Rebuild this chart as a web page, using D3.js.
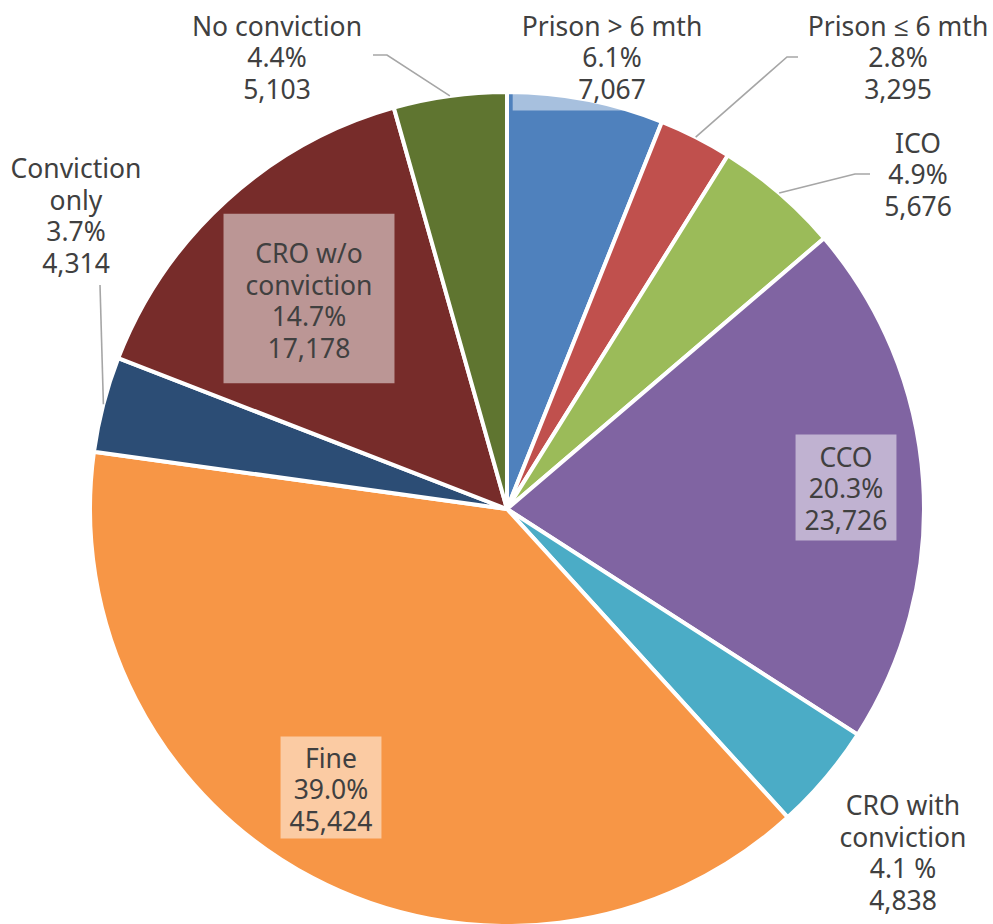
<!DOCTYPE html>
<html>
<head>
<meta charset="utf-8">
<script src="https://cdn.jsdelivr.net/npm/d3@7"></script>
<style>
  html, body { margin: 0; padding: 0; background: #fff; }
  svg { display: block; }
  text { font-family: "Noto Sans", "Open Sans", sans-serif; fill: #404040; }
</style>
</head>
<body>
<svg id="chart" width="993" height="924"></svg>
<script>
// Sentencing outcomes, clockwise from 12 o'clock
const categories = ["Prison > 6 mth", "Prison \u2264 6 mth", "ICO", "CCO", "CRO with conviction",
                    "Fine", "Conviction only", "CRO w/o conviction", "No conviction"];
const counts = [7067, 3295, 5676, 23726, 4838, 45424, 4314, 17178, 5103];
const percentLabels = ["6.1%", "2.8%", "4.9%", "20.3%", "4.1 %", "39.0%", "3.7%", "14.7%", "4.4%"];
const countLabels = ["7,067", "3,295", "5,676", "23,726", "4,838", "45,424", "4,314", "17,178", "5,103"];
const nameLines = [["Prison > 6 mth"], ["Prison \u2264 6 mth"], ["ICO"], ["CCO"], ["CRO with", "conviction"],
                   ["Fine"], ["Conviction", "only"], ["CRO w/o", "conviction"], ["No conviction"]];
const colors = ["#4f81bd", "#c0504d", "#9bbb59", "#8064a2", "#4bacc6",
                "#f79646", "#2c4d75", "#772c2a", "#5f7530"];

// Label placement: centre of text block, optional label box padding, leader route
const labelLayout = [
  { x: 612, y: 58,  box: { px: 9, top: 22, bottom: 21 } },
  { x: 898, y: 58,  leader: [[787, 57], [798, 57]] },
  { x: 918, y: 175, leader: [[855, 174], [870, 174]] },
  { x: 846, y: 489, box: { px: 9, top: 23, bottom: 20 } },
  { x: 903, y: 853 },
  { x: 331, y: 790, box: { px: 9, top: 22, bottom: 17 } },
  { x: 76,  y: 216, leader: [[100, 285]] },
  { x: 309, y: 301, box: { px: 22, top: 40, bottom: 35 } },
  { x: 277, y: 58,  leader: [[387, 55], [373, 55]] }
];

const cx = 507, cy = 509, radius = 417;
const lineH = 31.5;

const svg = d3.select("#chart");
const g = svg.append("g").attr("transform", `translate(${cx},${cy})`);

const pie = d3.pie().sort(null).value(d => d)(counts);
const arc = d3.arc().innerRadius(0).outerRadius(radius);

g.selectAll("path.slice")
  .data(pie)
  .join("path")
  .attr("class", "slice")
  .attr("d", arc)
  .attr("fill", (d, i) => colors[i])
  .attr("stroke", "#fff")
  .attr("stroke-width", 4)
  .attr("stroke-linejoin", "round");

// Leader lines from slice edge to outside labels
const edgePoint = d => {
  const a = (d.startAngle + d.endAngle) / 2;
  return [cx + radius * Math.sin(a), cy - radius * Math.cos(a)];
};
pie.forEach((d, i) => {
  const L = labelLayout[i];
  if (!L.leader) return;
  const pts = [edgePoint(d), ...L.leader];
  svg.append("path")
    .attr("d", d3.line()(pts))
    .attr("fill", "none")
    .attr("stroke", "#a6a6a6")
    .attr("stroke-width", 1.6);
});

// Labels
const labels = svg.append("g");
categories.forEach((c, i) => {
  const L = labelLayout[i];
  const lines = [...nameLines[i], percentLabels[i], countLabels[i]];
  const grp = labels.append("g");
  const box = grp.append("rect");
  const t = grp.append("text")
    .attr("text-anchor", "middle")
    .attr("font-size", 26.5);
  const y0 = L.y - (lines.length - 1) * lineH / 2;
  const yLast = y0 + (lines.length - 1) * lineH;
  lines.forEach((s, k) => {
    t.append("tspan")
      .attr("x", L.x)
      .attr("y", y0 + k * lineH)
      .attr("dy", "0.35em")
      .text(s);
  });
  if (L.box) {
    const bb = t.node().getBBox();
    box.attr("x", bb.x - L.box.px)
      .attr("y", y0 - L.box.top)
      .attr("width", bb.width + 2 * L.box.px)
      .attr("height", yLast - y0 + L.box.top + L.box.bottom)
      .attr("fill", "#fff")
      .attr("fill-opacity", 0.5);
  } else {
    box.remove();
  }
});
</script>
</body>
</html>
